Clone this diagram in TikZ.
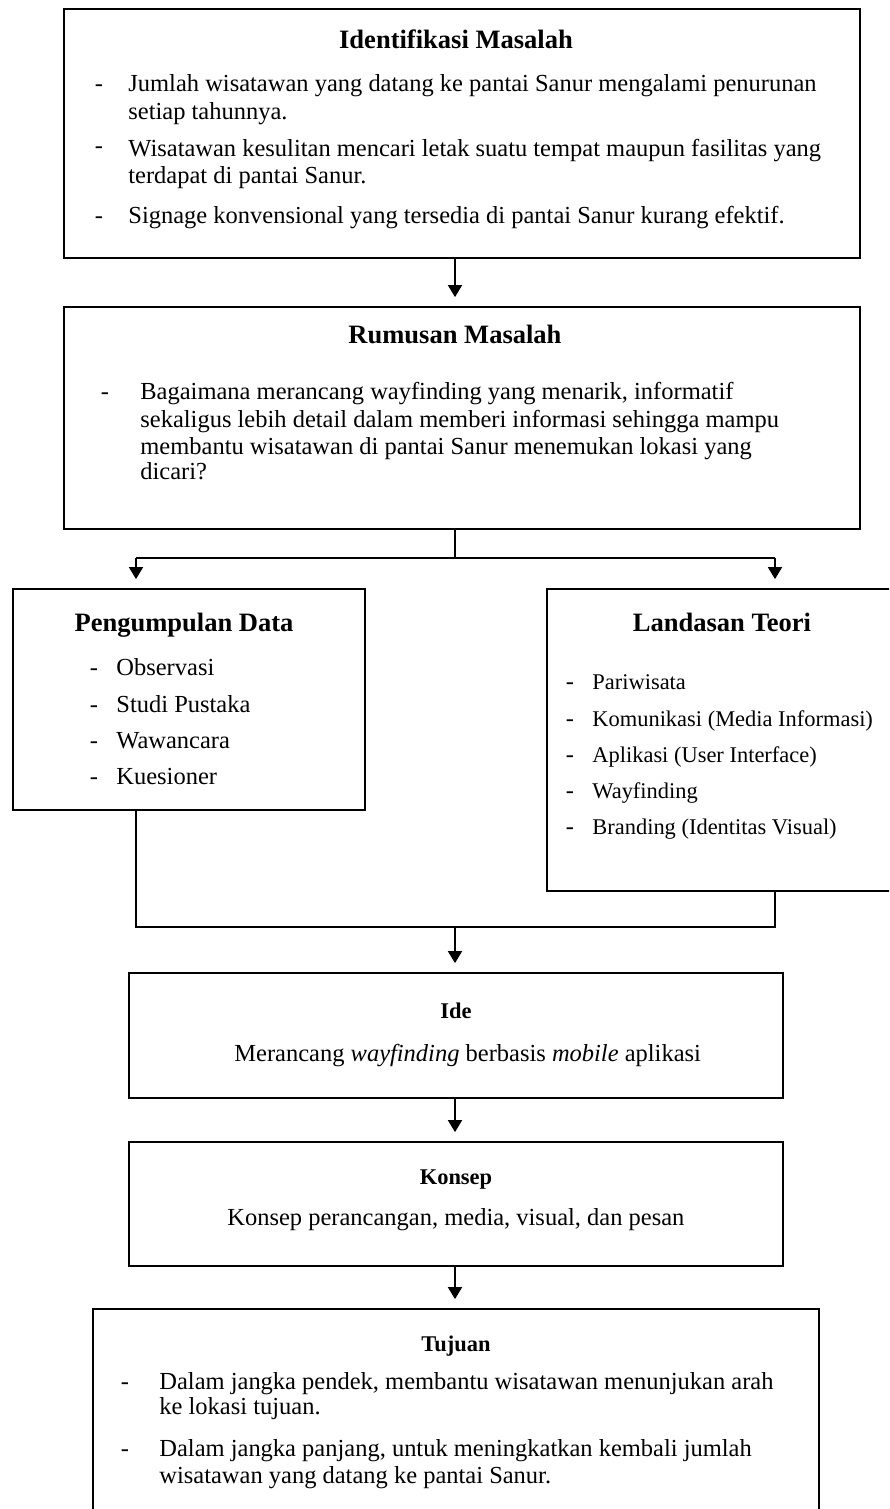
\documentclass[tikz,border=0pt]{standalone}
\usepackage{fontspec}
\setmainfont{Liberation Serif}
\usetikzlibrary{arrows.meta,fit}

\begin{document}
\begin{tikzpicture}[x=0.49pt,y=-0.49pt]
\tikzstyle{box} = [draw=black, line width=0.9pt, inner sep=0pt]
\tikzstyle{hd} = [font=\bfseries\fontsize{13}{15}\selectfont, inner sep=0pt, text height=9pt, text depth=3pt]
\tikzstyle{hs} = [hd, font=\bfseries\fontsize{11}{13}\selectfont]
\tikzstyle{li} = [anchor=west, font=\fontsize{12}{14}\selectfont, inner sep=0pt, text height=8.5pt, text depth=2.5pt]
\tikzstyle{ls} = [li, font=\fontsize{11}{13}\selectfont]
\tikzstyle{dsh} = [li, anchor=center]
\tikzstyle{e} = [draw=black, line width=0.8pt]
\tikzstyle{a} = [e, -{Triangle[length=5.9pt,width=6.9pt]}, shorten >=4.4pt]

\clip (0,0) rectangle (889,1509);
\fill[white] (0,0) rectangle (889,1509);

% boxes
\node[box, fit={(64,9) (860,258)}] (ident) {};
\node[box, fit={(64,307) (860,529)}] (rumusan) {};
\node[box, fit={(13,589) (365,810)}] (data) {};
\node[box, fit={(547,589) (899,891)}] (teori) {};
\node[box, fit={(129,973) (783,1098)}] (ide) {};
\node[box, fit={(129,1142) (783,1266)}] (konsep) {};
\node[box, fit={(93,1309) (819,1540)}] (tujuan) {};

% Identifikasi Masalah
\node[hd] (identT) at (456,42) {Identifikasi Masalah};
\node[dsh] (identD1) at (99,85) {-};
\node[li] (ident1a) at (128,85) {Jumlah wisatawan yang datang ke pantai Sanur mengalami penurunan};
\node[li] (ident1b) at (128,113) {setiap tahunnya.};
\node[dsh] (identD2) at (99,147) {-};
\node[li] (ident2a) at (128,150) {Wisatawan kesulitan mencari letak suatu tempat maupun fasilitas yang};
\node[li] (ident2b) at (128,177) {terdapat di pantai Sanur.};
\node[dsh] (identD3) at (99,217) {-};
\node[li] (ident3) at (128,217) {Signage konvensional yang tersedia di pantai Sanur kurang efektif.};

% Rumusan Masalah
\node[hd] (rumusanT) at (455,337) {Rumusan Masalah};
\node[dsh] (rumusanD) at (105,393) {-};
\node[li] (rumusan1) at (140,393) {Bagaimana merancang wayfinding yang menarik, informatif};
\node[li] (rumusan2) at (140,421) {sekaligus lebih detail dalam memberi informasi sehingga mampu};
\node[li] (rumusan3) at (140,448) {membantu wisatawan di pantai Sanur menemukan lokasi yang};
\node[li] (rumusan4) at (140,473) {dicari?};

% Pengumpulan Data
\node[hd] (dataT) at (184,625) {Pengumpulan Data};
\node[dsh] (dataD1) at (94,669) {-};
\node[li] (data1) at (116,669) {Observasi};
\node[dsh] (dataD2) at (94,706) {-};
\node[li] (data2) at (116,706) {Studi Pustaka};
\node[dsh] (dataD3) at (94,742) {-};
\node[li] (data3) at (116,742) {Wawancara};
\node[dsh] (dataD4) at (94,778) {-};
\node[li] (data4) at (116,778) {Kuesioner};

% Landasan Teori
\node[hd] (teoriT) at (722,625) {Landasan Teori};
\node[dsh] (teoriD1) at (570,683) {-};
\node[ls] (teori1) at (592,683) {Pariwisata};
\node[dsh] (teoriD2) at (570,720) {-};
\node[ls] (teori2) at (592,720) {Komunikasi (Media Informasi)};
\node[dsh] (teoriD3) at (570,756) {-};
\node[ls] (teori3) at (592,756) {Aplikasi (User Interface)};
\node[dsh] (teoriD4) at (570,792) {-};
\node[ls] (teori4) at (592,792) {Wayfinding};
\node[dsh] (teoriD5) at (570,828) {-};
\node[ls] (teori5) at (592,828) {Branding (Identitas Visual)};

% Ide, Konsep
\node[hs] (ideT) at (456,1012) {Ide};
\node[li] (ide1) at (234,1055) {Merancang \textit{wayfinding} berbasis \textit{mobile} aplikasi};
\node[hs] (konsepT) at (456,1178) {Konsep};
\node[li] (konsep1) at (227,1219) {Konsep perancangan, media, visual, dan pesan};

% Tujuan
\node[hs] (tujuanT) at (456,1345) {Tujuan};
\node[dsh] (tujuanD1) at (125,1383) {-};
\node[li] (tujuan1a) at (159,1383) {Dalam jangka pendek, membantu wisatawan menunjukan arah};
\node[li] (tujuan1b) at (159,1408) {ke lokasi tujuan.};
\node[dsh] (tujuanD2) at (125,1450) {-};
\node[li] (tujuan2a) at (159,1450) {Dalam jangka panjang, untuk meningkatkan kembali jumlah};
\node[li] (tujuan2b) at (159,1477) {wisatawan yang datang ke pantai Sanur.};

% connectors
\coordinate (split) at (455,558);
\coordinate (splitL) at (136,558);
\coordinate (splitR) at (775,558);
\coordinate (join) at (455,927);
\coordinate (joinL) at (136,927);
\coordinate (joinR) at (775,927);

\draw[a] (ident.south -| split) to (rumusan.north -| split);
\draw[e] (rumusan.south -| split) to (split);
\draw[e] (splitL) to (splitR);
\draw[a] (splitL) to (data.north -| splitL);
\draw[a] (splitR) to (teori.north -| splitR);
\draw[e] (data.south -| joinL) -- (joinL) -- (joinR) -- (teori.south -| joinR);
\draw[a] (join) to (ide.north -| join);
\draw[a] (ide.south -| join) to (konsep.north -| join);
\draw[a] (konsep.south -| join) to (tujuan.north -| join);
\end{tikzpicture}
\end{document}
